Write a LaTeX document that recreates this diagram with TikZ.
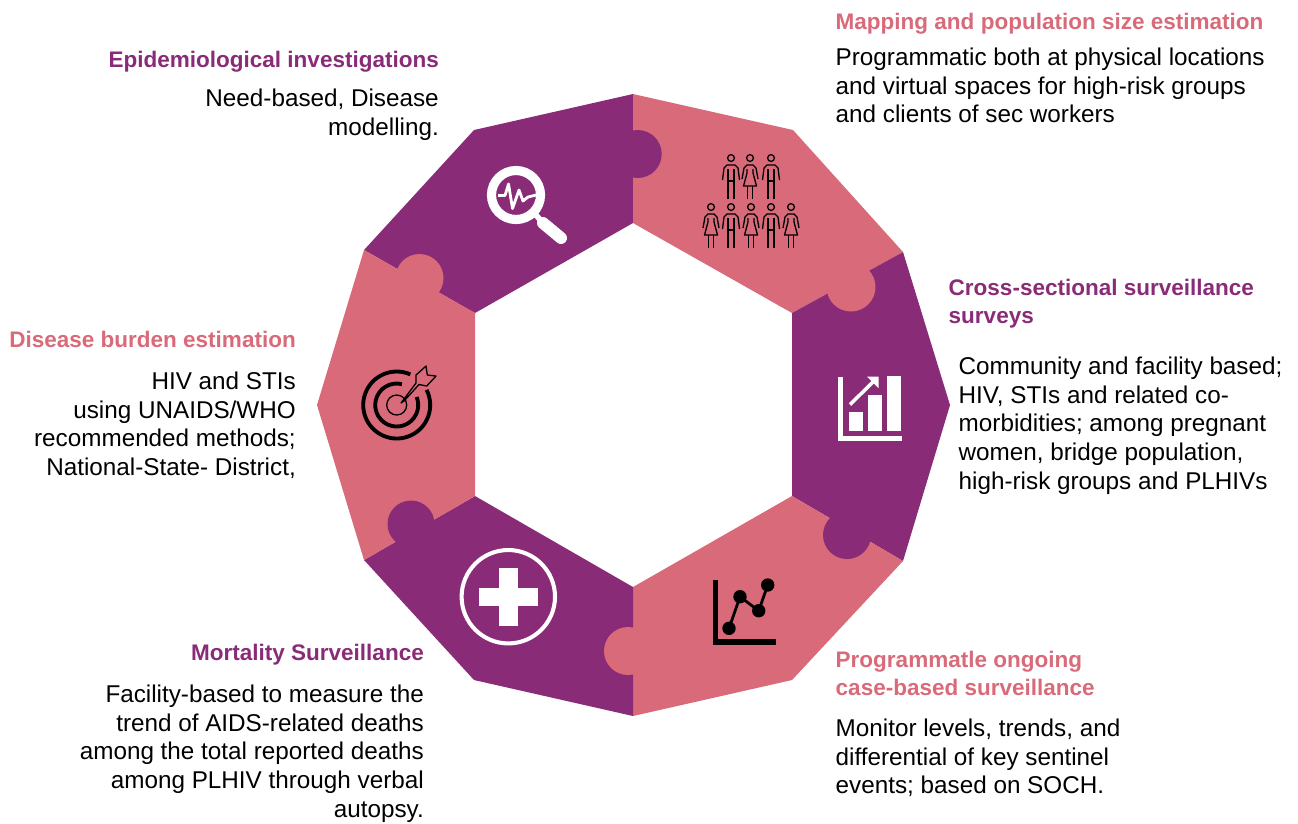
\documentclass[tikz,border=0pt]{standalone}
\usepackage{fontspec}
\setmainfont{Liberation Sans}
\usetikzlibrary{positioning,calc}
\definecolor{plum}{HTML}{8A2B77}
\definecolor{rose}{HTML}{D96A7A}

\begin{document}
\begin{tikzpicture}[
  x=0.01cm,
  y=-0.01cm,
  head/.style={font=\fontsize{6.4}{8.2}\selectfont\bfseries, inner sep=0pt, anchor=north west, align=left},
  body/.style={font=\fontsize{6.9}{8.2}\selectfont, inner sep=0pt, anchor=north west, align=left},
  rhead/.style={head, anchor=north east, align=right},
  rbody/.style={body, anchor=north east, align=right},
  thin icon/.style={draw=black, line width=0.37pt, line join=round},
  man/.pic={
    \draw[thin icon, fill=none] (0,0) circle[radius=3.4];
    \draw[thin icon] (-8.5,22) -- (-7,10) -- (-4,7) -- (4,7) -- (7,10) -- (8.5,22);
    \draw[thin icon] (-3,11) -- (-3,41);
    \draw[thin icon] (3,11) -- (3,41);
    \draw[thin icon] (-3,23) -- (3,23);
  },
  woman/.pic={
    \draw[thin icon, fill=none] (0,0) circle[radius=3.4];
    \draw[thin icon] (-8,21) -- (-6,10) -- (-3,7) -- (3,7) -- (6,10) -- (8,21);
    \draw[thin icon] (-3,11) -- (-3,15) -- (-6.5,28) -- (6.5,28) -- (3,15) -- (3,11);
    \draw[thin icon] (-2.5,28) -- (-2.5,41);
    \draw[thin icon] (2.5,28) -- (2.5,41);
  }
]
\useasboundingbox (0,0) rectangle (1298,823);

% puzzle pieces
\fill[plum] (633,94) -- (474,130) -- (364,250) -- (475,313) -- (633,223) -- cycle;
\fill[rose] (633,94) -- (793,130) -- (903,252) -- (792,313) -- (633,223) -- cycle;
\fill[plum] (903,252) -- (950,405) -- (903,561) -- (792,496) -- (792,313) -- cycle;
\fill[rose] (903,561) -- (792,680) -- (633,716) -- (633,587) -- (792,496) -- cycle;
\fill[plum] (633,716) -- (474,680) -- (364,560) -- (475,496) -- (633,587) -- cycle;
\fill[rose] (364,560) -- (317,405) -- (364,250) -- (475,313) -- (475,496) -- cycle;

% tabs
\fill[plum] (637.7,154) circle[radius=24];
\fill[rose] (851,287) circle[radius=24.5];
\fill[plum] (847,535) circle[radius=24];
\fill[rose] (628,651) circle[radius=24];
\fill[plum] (411,524) circle[radius=23.5];
\fill[rose] (419.5,278) circle[radius=24];

% magnifier
\draw[white, line width=2.6pt] (516,195) circle[radius=24.5];
\draw[white, line width=1.6pt] (536,215) -- (542,222);
\draw[white, line width=3.4pt, line cap=round] (543,223) -- (561,238);
\draw[white, line width=0.8pt, line join=round] (498,195.5) -- (505,195.5) -- (508.5,184) -- (512.5,208.5) -- (519,190) -- (523,201) -- (528,197) -- (536,195);

% people
\foreach \x in {731,771} { \pic at (\x,158) {man}; }
\pic at (750,158) {woman};
\foreach \x in {731,771} { \pic at (\x,207) {man}; }
\foreach \x in {711,751,791} { \pic at (\x,207) {woman}; }

% bar chart
\fill[white] (838,377) rectangle (843,441);
\fill[white] (838,436) rectangle (901.5,441);
\fill[white] (849,411.7) rectangle (862.7,431);
\fill[white] (868,395) rectangle (882,431);
\fill[white] (887,376) rectangle (901,431);
\draw[white, line width=1pt] (850,404.5) -- (875,380);
\fill[white] (867,376.7) -- (878.5,376.7) -- (878.5,388) -- cycle;

% line chart
\fill[black] (712.7,580) rectangle (718,644.7);
\fill[black] (712.7,639) rectangle (776,644.7);
\draw[black, line width=0.8pt] (729,628.3) -- (740,596.7) -- (758.7,610.7) -- (767.7,585);
\foreach \x/\y in {729/628.3, 740/596.7, 758.7/610.7, 767.7/585} {
  \fill[black] (\x,\y) circle[radius=6.7];
}

% target
\draw[black, line width=1.1pt] ($(396.7,405)+(-66:33.5)$) arc[start angle=-66, end angle=-387, radius=33.5];
\draw[black, line width=1.1pt] ($(396.7,405)+(-76:21.5)$) arc[start angle=-76, end angle=-382, radius=21.5];
\draw[thin icon] (396.7,405) circle[radius=10];
\draw[thin icon, fill=rose] (401,403) -- (416,383) -- (416,375) -- (426,366) -- (427.3,375) -- (436,376) -- (426.7,386) -- (419,384.5) -- (404,401) -- cycle;

% plus
\draw[white, line width=1.15pt] (508.3,596.7) circle[radius=46.7];
\fill[white] (479.3,588) rectangle (537.7,605.7);
\fill[white] (499.3,567.7) rectangle (517.7,626);

% texts
\node[rhead, text=plum] (epi head) at (439.5,50) {Epidemiological investigations};
\node[rbody] (epi text) at (439.5,88) {Need-based, Disease\\modelling.};
\node[head, text=rose] (map head) at (835,12) {Mapping and population size estimation};
\node[body] (map text) at (835,47) {Programmatic both at physical locations\\and virtual spaces for high-risk groups\\and clients of sec workers};
\node[head, text=plum] (cross head) at (948,278) {Cross-sectional surveillance\\surveys};
\node[body] (cross text) at (958,356) {Community and facility based;\\HIV, STIs and related co-\\morbidities; among pregnant\\women, bridge population,\\high-risk groups and PLHIVs};
\node[head, text=rose] (case head) at (835,650) {Programmatle ongoing\\case-based surveillance};
\node[body] (case text) at (835,718) {Monitor levels, trends, and\\differential of key sentinel\\events; based on SOCH.};
\node[rhead, text=plum] (mort head) at (424.5,643) {Mortality Surveillance};
\node[rbody] (mort text) at (424.5,684) {Facility-based to measure the\\trend of AIDS-related deaths\\among the total reported deaths\\among PLHIV through verbal\\autopsy.};
\node[rhead, text=rose] (burden head) at (296.5,330) {Disease burden estimation};
\node[rbody] (burden text) at (296.5,371) {HIV and STIs\\using UNAIDS/WHO\\recommended methods;\\National-State- District,};

\end{tikzpicture}
\end{document}
